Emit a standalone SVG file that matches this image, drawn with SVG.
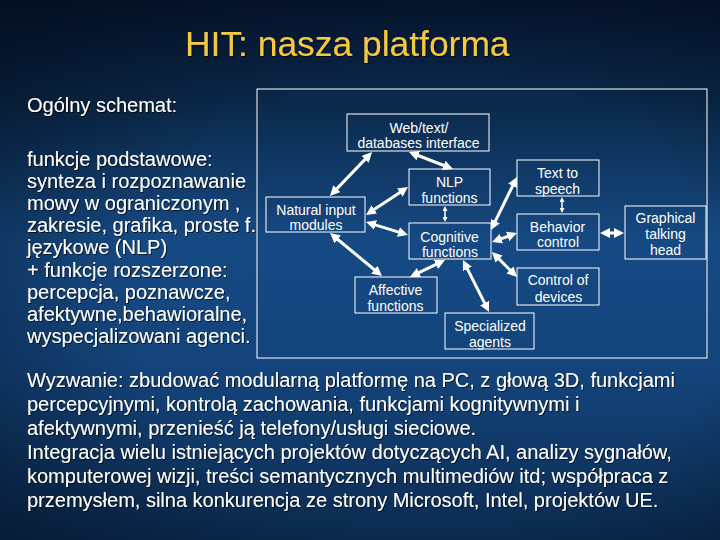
<svg xmlns="http://www.w3.org/2000/svg" width="720" height="540" viewBox="0 0 720 540">
<defs>
  <linearGradient id="bg" x1="0" y1="0" x2="0" y2="1">
    <stop offset="0" stop-color="#061630"/>
    <stop offset="0.18" stop-color="#0a2849"/>
    <stop offset="0.45" stop-color="#164a84"/>
    <stop offset="0.7" stop-color="#13437a"/>
    <stop offset="1" stop-color="#0b2b50"/>
  </linearGradient>
  <radialGradient id="vig" cx="0.6" cy="0.55" r="0.75">
    <stop offset="0.55" stop-color="#000814" stop-opacity="0"/>
    <stop offset="1" stop-color="#000814" stop-opacity="0.45"/>
  </radialGradient>
  <filter id="sh" x="-5%" y="-20%" width="110%" height="140%">
    <feDropShadow dx="1" dy="1" stdDeviation="0.6" flood-color="#000" flood-opacity="0.7"/>
  </filter>
  <marker id="ah" viewBox="0 0 10 10" markerWidth="10" markerHeight="10" refX="3" refY="5" orient="auto-start-reverse" markerUnits="userSpaceOnUse">
    <path d="M0,0 L10,5 L0,10 z" fill="#fff"/>
  </marker>
  <marker id="ahs" viewBox="0 0 10 10" markerWidth="5" markerHeight="5" refX="3" refY="5" orient="auto-start-reverse" markerUnits="userSpaceOnUse">
    <path d="M0,0 L10,5 L0,10 z" fill="#fff"/>
  </marker>
</defs>
<style>
  .t { font-family: "Liberation Sans", Arial, sans-serif; fill: #fff; }
  .big { font-size: 20px; }
  .box { fill: none; stroke: #fff; stroke-width: 1; }
  .bt { font-family: "Liberation Sans", Arial, sans-serif; font-size: 14px; fill: #fff; text-anchor: middle; }
  .c { stroke: #fff; stroke-width: 3; fill: none; marker-start: url(#ah); marker-end: url(#ah); }
  .cs { stroke: #fff; stroke-width: 1.5; fill: none; marker-start: url(#ahs); marker-end: url(#ahs); }
</style>
<rect width="720" height="540" fill="url(#bg)"/>
<rect width="720" height="540" fill="url(#vig)"/>

<text x="185" y="56" font-family="Liberation Sans, Arial, sans-serif" font-size="35.4" fill="#f3c93f" filter="url(#sh)">HIT: nasza platforma</text>

<g filter="url(#sh)">
  <text class="t big" x="27" y="112">Ogólny schemat:</text>
  <text class="t big" x="27" y="166">funkcje podstawowe:</text>
  <text class="t big" x="27" y="188">synteza i rozpoznawanie</text>
  <text class="t big" x="27" y="210">mowy w ograniczonym ,</text>
  <text class="t big" x="27" y="232">zakresie, grafika, proste f.</text>
  <text class="t big" x="27" y="254">językowe (NLP)</text>
  <text class="t big" x="27" y="277">+ funkcje rozszerzone:</text>
  <text class="t big" x="27" y="299">percepcja, poznawcze,</text>
  <text class="t big" x="27" y="321">afektywne,behawioralne,</text>
  <text class="t big" x="27" y="343">wyspecjalizowani agenci.</text>

  <text class="t big" x="27" y="387">Wyzwanie: zbudować modularną platformę na PC, z głową 3D, funkcjami</text>
  <text class="t big" x="27" y="411">percepcyjnymi, kontrolą zachowania, funkcjami kognitywnymi i</text>
  <text class="t big" x="27" y="435">afektywnymi, przenieść ją telefony/usługi sieciowe.</text>
  <text class="t big" x="27" y="459">Integracja wielu istniejących projektów dotyczących AI, analizy sygnałów,</text>
  <text class="t big" x="27" y="483">komputerowej wizji, treści semantycznych multimediów itd; współpraca z</text>
  <text class="t big" x="27" y="507">przemysłem, silna konkurencja ze strony Microsoft, Intel, projektów UE.</text>
</g>

<rect id="frame" class="box" x="257" y="89" width="450" height="269"/>

<g id="connectors">
  <line class="c" x1="367.2" y1="157.1" x2="334.8" y2="190.9"/>
  <line class="c" x1="415.5" y1="154.5" x2="446.5" y2="166.5"/>
  <line class="c" x1="402.2" y1="190.9" x2="371.8" y2="211.1"/>
  <line class="c" x1="372.7" y1="224.1" x2="401.3" y2="232.9"/>
  <line class="c" x1="335.4" y1="237.5" x2="376.6" y2="271.5"/>
  <line class="c" x1="416.3" y1="273.9" x2="438.7" y2="263.1"/>
  <line class="cs" x1="445" y1="209.5" x2="445" y2="218.5"/>
  <line class="c" x1="466.1" y1="266.3" x2="485.9" y2="305.7"/>
  <line class="c" x1="494.1" y1="223.7" x2="513.9" y2="183.3"/>
  <line class="c" x1="510.4" y1="235.4" x2="498.6" y2="239.6"/>
  <line class="c" x1="496.9" y1="256.9" x2="512.1" y2="272.1"/>
  <line class="cs" x1="562" y1="200.5" x2="562" y2="209.5"/>
  <line class="c" x1="607" y1="233" x2="617" y2="233"/>
</g>

<g id="web">
  <rect class="box" x="347" y="114" width="142" height="37"/>
  <text class="bt" x="419" y="133">Web/text/</text>
  <text class="bt" x="418.5" y="148">databases interface</text>
</g>
<g id="nlp">
  <rect class="box" x="409" y="169" width="81" height="36"/>
  <text class="bt" x="449.5" y="187">NLP</text>
  <text class="bt" x="449.5" y="203">functions</text>
</g>
<g id="natural">
  <rect class="box" x="266" y="197" width="99" height="35"/>
  <text class="bt" x="316" y="215">Natural input</text>
  <text class="bt" x="316" y="230">modules</text>
</g>
<g id="cognitive">
  <rect class="box" x="409" y="223" width="82" height="36"/>
  <text class="bt" x="449.5" y="242">Cognitive</text>
  <text class="bt" x="450" y="257">functions</text>
</g>
<g id="affective">
  <rect class="box" x="355" y="277" width="82" height="36"/>
  <text class="bt" x="395.5" y="295">Affective</text>
  <text class="bt" x="395.5" y="311">functions</text>
</g>
<g id="specialized">
  <rect class="box" x="445" y="313" width="89" height="36"/>
  <text class="bt" x="490" y="331">Specialized</text>
  <text class="bt" x="490" y="347">agents</text>
</g>
<g id="tts">
  <rect class="box" x="517" y="160" width="82" height="36"/>
  <text class="bt" x="557.5" y="178">Text to</text>
  <text class="bt" x="557.5" y="194">speech</text>
</g>
<g id="behavior">
  <rect class="box" x="517" y="214" width="82" height="36"/>
  <text class="bt" x="557.5" y="232">Behavior</text>
  <text class="bt" x="558" y="247">control</text>
</g>
<g id="devices">
  <rect class="box" x="517" y="268" width="82" height="37"/>
  <text class="bt" x="558" y="285">Control of</text>
  <text class="bt" x="558.5" y="302">devices</text>
</g>
<g id="head">
  <rect class="box" x="625" y="206" width="81" height="53"/>
  <text class="bt" x="665.5" y="223">Graphical</text>
  <text class="bt" x="665.5" y="239">talking</text>
  <text class="bt" x="665.5" y="255">head</text>
</g>
</svg>
